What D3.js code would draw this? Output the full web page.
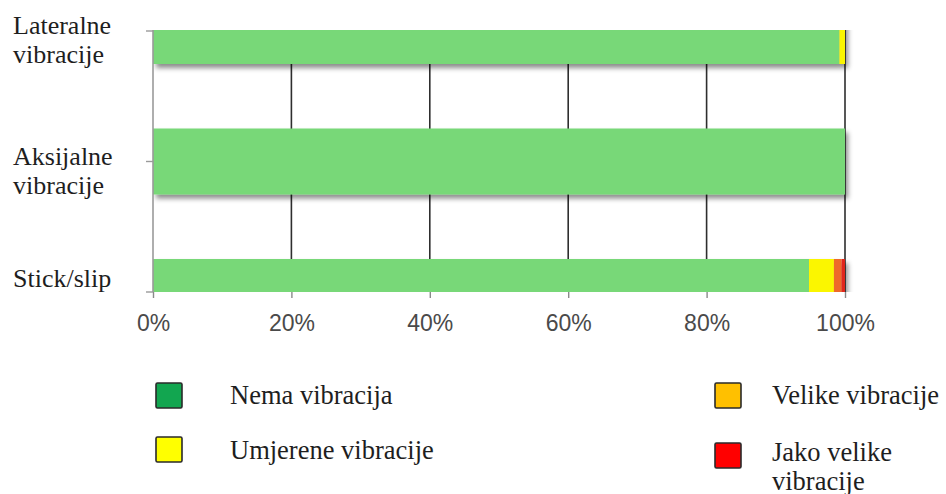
<!DOCTYPE html>
<html>
<head>
<meta charset="utf-8">
<script src="https://cdn.jsdelivr.net/npm/d3@7"></script>
<style>
  body { margin: 0; background: #fff; }
  svg { display: block; }
</style>
</head>
<body>
<div id="chart-area"></div>
<script>
// data
var categories = ["Lateralne vibracije", "Aksijalne vibracije", "Stick/slip"];
var categoryLines = [["Lateralne", "vibracije"], ["Aksijalne", "vibracije"], ["Stick/slip"]];
var series = ["Nema vibracija", "Umjerene vibracije", "Velike vibracije", "Jako velike vibracije"];
var nema = [99.2, 100, 94.8];
var umjerene = [0.8, 0, 3.6];
var velike = [0, 0, 1.1];
var jakoVelike = [0, 0, 0.5];
var xTicks = [0, 20, 40, 60, 80, 100];

var barColors = ["#78d878", "#fbf600", "#ee6a2c", "#e0281c"];
var legendColors = ["#12a650", "#ffff00", "#ffc000", "#ff0000"];

var width = 946, height = 494;
var svg = d3.select("#chart-area").append("svg")
    .attr("width", width)
    .attr("height", height);

var rows = categories.map((c, i) => {
    return {cat: c, "Nema vibracija": nema[i], "Umjerene vibracije": umjerene[i],
        "Velike vibracije": velike[i], "Jako velike vibracije": jakoVelike[i]};
});
var stacked = d3.stack().keys(series)(rows);

var x = d3.scaleLinear().domain([0, 100]).range([153, 845]);
var y = d3.scalePoint().domain(categories).range([31, 292]);
var barH = 66;
var plotTop = 30, plotBottom = 292;

var defs = svg.append("defs");
defs.append("clipPath").attr("id", "plot-clip")
    .append("rect")
    .attr("x", x(0)).attr("y", plotTop)
    .attr("width", x(100) - x(0) + 10).attr("height", plotBottom - plotTop);
defs.append("filter").attr("id", "shadow")
    .attr("x", "-5%").attr("y", "-30%").attr("width", "110%").attr("height", "160%")
    .append("feDropShadow")
    .attr("dx", 3).attr("dy", 4).attr("stdDeviation", 2.4)
    .attr("flood-color", "#000").attr("flood-opacity", 0.45);

// gridlines
svg.append("g").selectAll("line")
    .data(xTicks.filter(d => d > 0))
    .enter().append("line")
    .attr("x1", d => x(d)).attr("x2", d => x(d))
    .attr("y1", plotTop).attr("y2", plotBottom)
    .attr("stroke", "#2e2e2e").attr("stroke-width", 1.6);

// bars
var barsG = svg.append("g").attr("clip-path", "url(#plot-clip)")
    .append("g").attr("filter", "url(#shadow)");
barsG.selectAll("g")
    .data(stacked)
    .enter().append("g")
    .attr("fill", (d, i) => barColors[i])
    .selectAll("rect")
    .data(d => d)
    .enter().append("rect")
    .attr("x", d => x(d[0]))
    .attr("y", d => y(d.data.cat) - barH / 2)
    .attr("width", d => x(d[1]) - x(d[0]))
    .attr("height", barH);

// x axis ticks and labels
var xAxis = svg.append("g")
    .attr("transform", "translate(0," + plotBottom + ")")
    .call(d3.axisBottom(x).tickValues(xTicks).tickSize(6).tickFormat(d => d + "%"));
xAxis.select(".domain").remove();
xAxis.selectAll(".tick line").attr("stroke", "#8a8a8a").attr("stroke-width", 1.4);
xAxis.selectAll(".tick text")
    .attr("y", 39).attr("dy", 0)
    .attr("font-family", "Liberation Sans, Arial, sans-serif")
    .attr("font-size", 23)
    .attr("fill", "#4a4a4a");

// y axis line and ticks
svg.append("line")
    .attr("x1", x(0)).attr("x2", x(0))
    .attr("y1", plotTop).attr("y2", plotBottom)
    .attr("stroke", "#9a9a9a").attr("stroke-width", 1.6);
svg.append("g").selectAll("line")
    .data(categories)
    .enter().append("line")
    .attr("x1", x(0) - 7).attr("x2", x(0))
    .attr("y1", d => y(d)).attr("y2", d => y(d))
    .attr("stroke", "#9a9a9a").attr("stroke-width", 1.4);

// category labels
var catText = svg.append("g").selectAll("text")
    .data(categories)
    .enter().append("text")
    .attr("font-family", "Liberation Serif, Times New Roman, serif")
    .attr("font-size", 26)
    .attr("fill", "#1e1e1e");
catText.each(function(d, i) {
    var lines = categoryLines[i];
    var base = y(d) + (lines.length > 1 ? 3 : -5);
    d3.select(this).selectAll("tspan")
        .data(lines)
        .enter().append("tspan")
        .attr("x", 13)
        .attr("y", (l, j) => base + j * 29)
        .text(l => l);
});

// legend
var legendLayout = [
    {sx: 156, sy: 383, tx: 230, ty: 404, lines: ["Nema vibracija"]},
    {sx: 156, sy: 437, tx: 230, ty: 459, lines: ["Umjerene vibracije"]},
    {sx: 715, sy: 383, tx: 772, ty: 404, lines: ["Velike vibracije"]},
    {sx: 715, sy: 443, tx: 772, ty: 461, lines: ["Jako velike", "vibracije"]}
];
var legend = svg.append("g").selectAll("g")
    .data(series)
    .enter().append("g");
legend.append("rect")
    .attr("x", (d, i) => legendLayout[i].sx)
    .attr("y", (d, i) => legendLayout[i].sy)
    .attr("width", 26).attr("height", 25)
    .attr("rx", 1.5)
    .attr("fill", (d, i) => legendColors[i])
    .attr("stroke", "#2a2a2a").attr("stroke-width", 1.6);
legend.append("text")
    .attr("font-family", "Liberation Serif, Times New Roman, serif")
    .attr("font-size", 26.5)
    .attr("fill", "#1e1e1e")
    .each(function(d, i) {
        var L = legendLayout[i];
        d3.select(this).selectAll("tspan")
            .data(L.lines)
            .enter().append("tspan")
            .attr("x", L.tx)
            .attr("y", (l, j) => L.ty + j * 28.5)
            .text(l => l);
    });
</script>
</body>
</html>
